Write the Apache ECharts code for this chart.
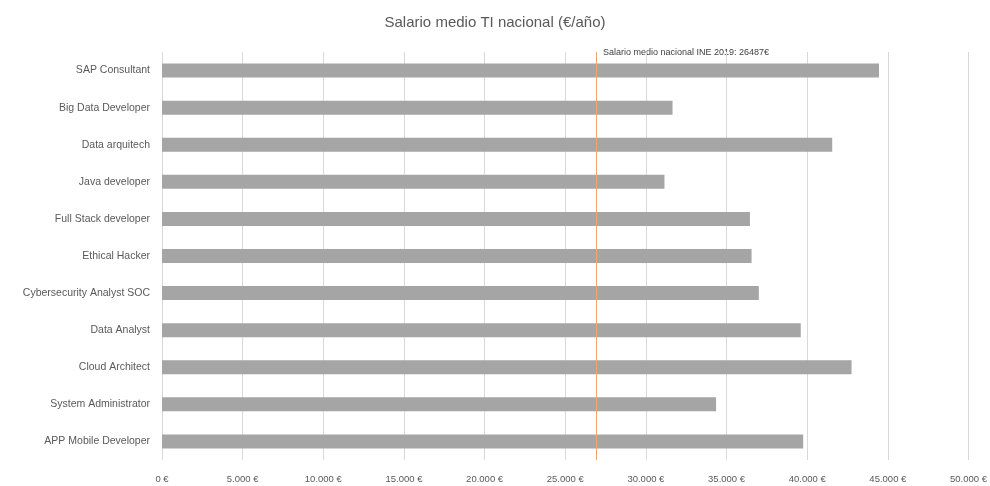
<!DOCTYPE html>
<html>
<head>
<meta charset="utf-8">
<script src="https://cdn.jsdelivr.net/npm/echarts@6/dist/echarts.min.js"></script>
<style>html,body{margin:0;padding:0;background:#fff}#c{width:990px;height:486px}</style>
</head>
<body>
<div id="c"></div>
<script>
const categories = ["SAP Consultant","Big Data Developer","Data arquitech","Java developer","Full Stack developer","Ethical Hacker","Cybersecurity Analyst SOC","Data Analyst","Cloud Architect","System Administrator","APP Mobile Developer"];
const salaries = [44450, 31650, 41550, 31150, 36450, 36550, 37000, 39600, 42750, 34350, 39750];
const nationalMean = 26950;
const nationalLabel = "Salario medio nacional INE 2019: 26487€";
const xTicks = { min: 0, max: 50000, interval: 5000 };

function fmt(v){ return (v === 0 ? "0" : v.toString().replace(/\B(?=(\d{3})+(?!\d))/g, ".")) + " €"; }

const chart = echarts.init(document.getElementById('c'));
chart.setOption({
  animation: false,
  textStyle: { fontFamily: "Liberation Sans, Arial, sans-serif" },
  title: {
    text: "Salario medio TI nacional (€/año)",
    left: 'center', top: 10,
    textStyle: { fontSize: 15, fontWeight: 'normal', color: '#595959' }
  },
  graphic: [{
    type: 'text', left: 603, top: 48,
    style: { text: nationalLabel, fontSize: 9, fill: '#404040', fontFamily: "Liberation Sans, Arial, sans-serif" }
  }],
  grid: { left: 162, right: 17, top: 52, bottom: 26, containLabel: false },
  xAxis: {
    type: 'value', min: xTicks.min, max: xTicks.max, interval: xTicks.interval,
    axisLine: { show: false }, axisTick: { show: false },
    splitLine: { lineStyle: { color: '#d9d9d9', width: 1 } },
    axisLabel: { formatter: fmt, color: '#595959', fontSize: 9.5, margin: 14 }
  },
  yAxis: {
    type: 'category', data: categories, inverse: true,
    axisLine: { show: false }, axisTick: { show: false },
    axisLabel: { color: '#595959', fontSize: 10.5, margin: 12 }
  },
  series: [{
    type: 'bar', data: salaries, barWidth: 14,
    itemStyle: { color: '#a5a5a5' },
    markLine: {
      silent: true, symbol: 'none',
      label: { show: false },
      lineStyle: { color: '#f4a46c', type: 'solid', width: 1 },
      data: [{ xAxis: nationalMean }]
    }
  }]
});
</script>
</body>
</html>
